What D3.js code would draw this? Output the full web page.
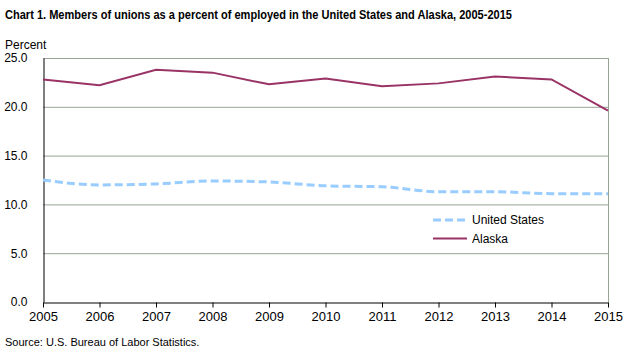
<!DOCTYPE html>
<html lang="en">
	<head>
		<meta charset="utf-8">
		<title>Union members, US and Alaska</title>
		<script type="text/javascript" src="https://cdn.jsdelivr.net/npm/d3@7"></script>
		<style type="text/css">
			body { margin: 0; background: #fff; }
			text { font-family: "Liberation Sans", Arial, sans-serif; fill: #000; }
		</style>
	</head>
	<body>
		<script type="text/javascript">

			//Data
			let years = [2005, 2006, 2007, 2008, 2009, 2010, 2011, 2012, 2013, 2014, 2015];
			let unitedStates = [12.5, 12.0, 12.1, 12.4, 12.3, 11.9, 11.8, 11.3, 11.3, 11.1, 11.1];
			let alaska = [22.8, 22.2, 23.8, 23.5, 22.3, 22.9, 22.1, 22.4, 23.1, 22.8, 19.6];
			let yTicks = [0, 5, 10, 15, 20, 25];

			let w = 629;
			let h = 352;
			let plotLeft = 43, plotRight = 608, plotTop = 58, plotBottom = 302;

			let x = d3.scaleLinear().domain([2005, 2015]).range([plotLeft, plotRight]);
			let y = d3.scaleLinear().domain([0, 25]).range([plotBottom, plotTop]);

			let svg = d3.select("body")
						.append("svg")
						  .attr("width", w)
						  .attr("height", h);

			//Title
			svg.append("text")
			     .attr("x", 5)
			     .attr("y", 18.5)
			     .attr("font-weight", "bold")
			     .attr("font-size", 13.5)
			     .attr("textLength", 507)
			     .attr("lengthAdjust", "spacingAndGlyphs")
			     .text("Chart 1. Members of unions as a percent of employed in the United  States and Alaska, 2005-2015");

			svg.append("text")
			     .attr("x", 5)
			     .attr("y", 49)
			     .attr("font-size", 12)
			     .text("Percent");

			//Gridlines
			svg.append("g")
			   .selectAll("line")
			   .data(yTicks.filter(d => d > 0))
			   .enter()
			 .append("line")
			   .attr("x1", plotLeft)
			   .attr("x2", plotRight)
			   .attr("y1", d => y(d) + 0.5)
			   .attr("y2", d => y(d) + 0.5)
			   .attr("stroke", "#98a594")
			   .attr("stroke-width", 1);

			//Right border
			svg.append("line")
			   .attr("x1", plotRight + 0.5).attr("x2", plotRight + 0.5)
			   .attr("y1", plotTop).attr("y2", plotBottom)
			   .attr("stroke", "#98a594");

			//Y axis
			let yAxis = d3.axisLeft(y)
			              .tickValues(yTicks)
			              .tickSize(0)
			              .tickPadding(16)
			              .tickFormat(d3.format(".1f"));
			let gy = svg.append("g")
			            .attr("transform", `translate(${plotLeft + 0.5},0)`)
			            .call(yAxis);
			gy.select(".domain").attr("stroke", "#000");
			gy.selectAll("text")
			  .attr("font-size", 12)
			  .attr("font-family", "Liberation Sans, Arial, sans-serif");

			//X axis
			let xAxis = d3.axisBottom(x)
			              .tickValues(years)
			              .tickSize(5)
			              .tickSizeOuter(0)
			              .tickPadding(4)
			              .tickFormat(d3.format("d"));
			let gx = svg.append("g")
			            .attr("transform", `translate(0,${plotBottom + 0.5})`)
			            .call(xAxis);
			gx.select(".domain").attr("stroke", "#000");
			gx.selectAll("line").attr("stroke", "#000");
			gx.selectAll("text")
			  .attr("font-size", 13)
			  .attr("font-family", "Liberation Sans, Arial, sans-serif");

			//Lines
			let usLine = d3.line()
			               .x((d, i) => x(years[i]))
			               .y(d => y(d))
			               .curve(d3.curveMonotoneX);
			let akLine = d3.line()
			               .x((d, i) => x(years[i]))
			               .y(d => y(d));

			svg.append("path")
			   .attr("d", akLine(alaska))
			   .attr("fill", "none")
			   .attr("stroke", "#993366")
			   .attr("stroke-width", 2);

			svg.append("path")
			   .attr("d", usLine(unitedStates))
			   .attr("fill", "none")
			   .attr("stroke", "#99ccff")
			   .attr("stroke-width", 3)
			   .attr("stroke-dasharray", "8,4");

			//Legend
			let legend = svg.append("g").attr("transform", "translate(433,0)");
			legend.append("line")
			      .attr("x1", 0).attr("x2", 34)
			      .attr("y1", 220).attr("y2", 220)
			      .attr("stroke", "#99ccff")
			      .attr("stroke-width", 3)
			      .attr("stroke-dasharray", "8,4");
			legend.append("text")
			      .attr("x", 39).attr("y", 224)
			      .attr("font-size", 12)
			      .text("United States");
			legend.append("line")
			      .attr("x1", 0).attr("x2", 34)
			      .attr("y1", 238.5).attr("y2", 238.5)
			      .attr("stroke", "#993366")
			      .attr("stroke-width", 2);
			legend.append("text")
			      .attr("x", 39).attr("y", 243)
			      .attr("font-size", 12)
			      .text("Alaska");

			//Source
			svg.append("text")
			     .attr("x", 5)
			     .attr("y", 346)
			     .attr("font-size", 11)
			     .text("Source: U.S. Bureau of Labor Statistics.");

		</script>
	</body>
</html>
